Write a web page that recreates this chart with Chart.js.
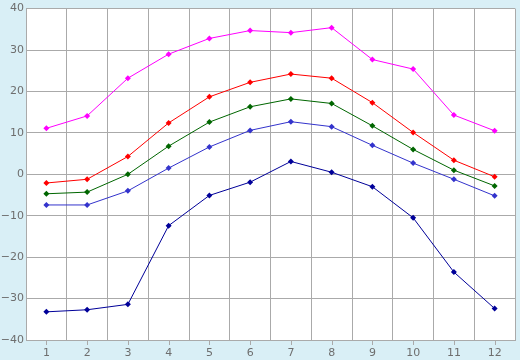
<!DOCTYPE html>
<html>
<head>
<meta charset="utf-8">
<script src="https://cdn.jsdelivr.net/npm/chart.js@4/dist/chart.umd.min.js"></script>
<style>
  html, body { margin: 0; padding: 0; background: #d9eff6; }
  #wrap { width: 520px; height: 360px; }
</style>
</head>
<body>
<div id="wrap"><canvas id="chart" width="520" height="360"></canvas></div>
<script>
const months = ['1', '2', '3', '4', '5', '6', '7', '8', '9', '10', '11', '12']
const maxHigh = [11.1, 14.1, 23.2, 29.0, 32.8, 34.7, 34.2, 35.4, 27.7, 25.4, 14.3, 10.5]
const avgHigh = [-2.1, -1.2, 4.3, 12.4, 18.7, 22.2, 24.2, 23.2, 17.3, 10.1, 3.4, -0.6]
const avgMean = [-4.7, -4.3, 0.0, 6.8, 12.6, 16.3, 18.2, 17.1, 11.7, 6.0, 1.0, -2.8]
const avgLow = [-7.4, -7.4, -4.0, 1.5, 6.6, 10.6, 12.7, 11.5, 7.0, 2.7, -1.2, -5.2]
const minLow = [-33.2, -32.7, -31.4, -12.4, -5.1, -1.9, 3.1, 0.5, -3.0, -10.5, -23.6, -32.4]
const yTicks = [-40, -30, -20, -10, 0, 10, 20, 30, 40]

const gridColor = '#aaaaaa'
const textColor = '#6e6e6e'

function series(data, color) {
  return {
    data: data,
    borderColor: color,
    backgroundColor: color,
    borderWidth: 1,
    pointStyle: 'rectRot',
    pointRadius: 3,
    pointBorderWidth: 0,
    tension: 0,
    fill: false
  }
}

// white plot area + small tick marks under the category labels
const plotBg = {
  id: 'plotBg',
  beforeDraw(chart) {
    const { ctx, chartArea: a } = chart
    ctx.save()
    ctx.fillStyle = '#ffffff'
    ctx.fillRect(a.left, a.top, a.right - a.left, a.bottom - a.top)
    ctx.restore()
  },
  afterDraw(chart) {
    const { ctx, chartArea: a } = chart
    const x = chart.scales.x
    ctx.save()
    ctx.strokeStyle = gridColor
    ctx.lineWidth = 1
    for (let i = 0; i < months.length; i++) {
      const px = Math.round(x.getPixelForTick(i)) + 0.5
      ctx.beginPath()
      ctx.moveTo(px, a.bottom)
      ctx.lineTo(px, a.bottom + 5)
      ctx.stroke()
    }
    ctx.restore()
  }
}

new Chart(document.getElementById('chart'), {
  type: 'line',
  data: {
    labels: months,
    datasets: [
      series(maxHigh, '#ff00ff'),
      series(avgHigh, '#ff0000'),
      series(avgMean, '#006600'),
      series(avgLow, '#3333cc'),
      series(minLow, '#000099')
    ]
  },
  options: {
    responsive: false,
    animation: false,
    layout: { padding: { top: 5, right: 5, left: 0, bottom: 0 } },
    plugins: { legend: { display: false }, tooltip: { enabled: false } },
    scales: {
      x: {
        offset: true,
        grid: { offset: true, color: gridColor, drawTicks: false },
        border: { color: gridColor },
        ticks: { color: textColor, padding: 7, font: { family: 'DejaVu Sans', size: 11 }, maxRotation: 0 },
        afterFit(scale) { scale.height = 20 }
      },
      y: {
        min: -40,
        max: 40,
        afterBuildTicks(scale) { scale.ticks = yTicks.map(v => ({ value: v })) },
        grid: { color: gridColor, drawTicks: false },
        border: { color: gridColor },
        ticks: {
          color: textColor,
          padding: 2,
          font: { family: 'DejaVu Sans', size: 11 },
          callback: v => String(v).replace('-', '\u2212')
        },
        afterFit(scale) { scale.width = 26 }
      }
    }
  },
  plugins: [plotBg]
})
</script>
</body>
</html>
